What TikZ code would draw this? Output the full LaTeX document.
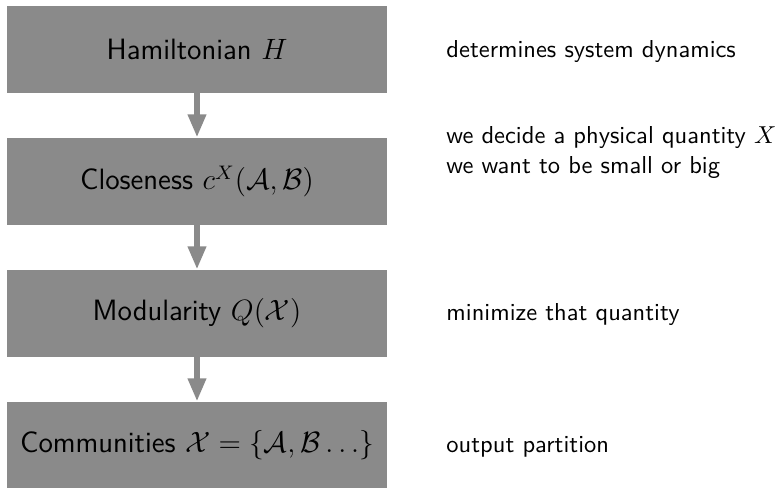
\documentclass[tikz,border=0pt]{standalone}
\usetikzlibrary{arrows.meta}
\definecolor{boxgray}{RGB}{138,138,138}
\tikzset{
  stage/.style={rectangle, fill=boxgray, draw=none, minimum width=380*0.4082pt, minimum height=87*0.4082pt, inner sep=0pt, font=\large\sffamily, text=black},
  flow/.style={draw=boxgray, line width=2.45pt, -{Triangle[width=7pt,length=9.4pt]}, shorten <=-0.5pt},
  remark/.style={anchor=base west, inner sep=0pt, font=\sffamily, align=left}
}
\begin{document}
\begin{tikzpicture}[x=0.4082pt, y=-0.4082pt]
\useasboundingbox (0,0) rectangle (778,488);
\node[stage] (h) at (197,49.5) {Hamiltonian $H$};
\node[stage] (c) at (197,181.5) {Closeness $c^X(\mathcal{A},\mathcal{B})$};
\node[stage] (q) at (197,313.5) {Modularity $Q(\mathcal{X})$};
\node[stage] (x) at (197,445.5) {Communities $\mathcal{X}=\{\mathcal{A},\mathcal{B}\dots\}$};
\draw[flow] (h) -- (c);
\draw[flow] (c) -- (q);
\draw[flow] (q) -- (x);
\node[remark] (r1) at (446,57) {determines system dynamics};
\node[remark] (r2) at (446,173) {we decide a physical quantity $X$\\we want to be small or big};
\node[remark] (r3) at (446,320) {minimize that quantity};
\node[remark] (r4) at (446,452) {output partition};
\end{tikzpicture}
\end{document}
